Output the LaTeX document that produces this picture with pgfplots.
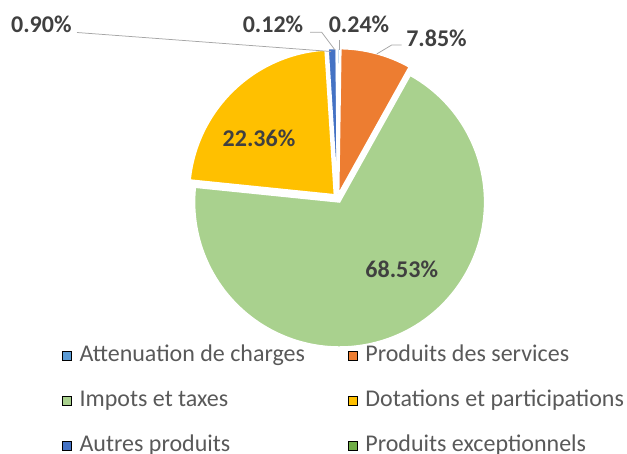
\documentclass[border=0pt]{standalone}
\usepackage{pgfplots}
\pgfplotsset{compat=1.18}
\usepackage{pgfplotstable}
\usepackage{fontspec}
\setmainfont{Carlito}

% slice colours, in table order
\definecolor{sl0}{HTML}{5B9BD5}
\definecolor{sl1}{HTML}{ED7D31}
\definecolor{sl2}{HTML}{A9D18E}
\definecolor{sl3}{HTML}{FFC000}
\definecolor{sl4}{HTML}{4472C4}
\definecolor{sl5}{HTML}{70AD47}
\definecolor{lbl}{HTML}{404040}
\definecolor{leg}{HTML}{595959}
\definecolor{lead}{HTML}{A6A6A6}

% value in %, label position (pixels from top left)
\pgfplotstableread[col sep=comma]{
name,value,lx,ly
Attenuation de charges,0.24,359,32.7
Produits des services,7.85,436.5,46.7
Impots et taxes,68.53,401.7,277.3
Dotations et participations,22.36,259,146.7
Autres produits,0.90,41.3,32.7
Produits exceptionnels,0.12,273,32.7
}\piedata

\newcommand\ox{337.5}
\newcommand\oy{198}
\newcommand\rad{145}
\newcommand\expl{4.5}

\begin{document}
\begin{tikzpicture}
\pgfplotstablegetrowsof{\piedata}
\pgfmathtruncatemacro\lastrow{\pgfplotsretval-1}
\gdef\cum{0}
\foreach \i in {0,...,\lastrow}{%
  \pgfplotstablegetelem{\i}{value}\of\piedata
  \expandafter\xdef\csname pv\i\endcsname{\pgfplotsretval}%
  \pgfmathsetmacro\sA{90-3.6*\cum}%
  \pgfmathsetmacro\nc{\cum+\pgfplotsretval}%
  \pgfmathsetmacro\eA{90-3.6*\nc}%
  \pgfmathsetmacro\mD{(\sA+\eA)/2}%
  \expandafter\xdef\csname sA\i\endcsname{\sA}%
  \expandafter\xdef\csname eA\i\endcsname{\eA}%
  \expandafter\xdef\csname mD\i\endcsname{\mD}%
  \pgfplotstablegetelem{\i}{lx}\of\piedata
  \expandafter\xdef\csname lx\i\endcsname{\pgfplotsretval}%
  \pgfplotstablegetelem{\i}{ly}\of\piedata
  \expandafter\xdef\csname ly\i\endcsname{\pgfplotsretval}%
  \pgfplotstablegetelem{\i}{name}\of\piedata
  \expandafter\xdef\csname nm\i\endcsname{\pgfplotsretval}%
  \xdef\cum{\nc}%
}
\begin{axis}[
  x=1pt, y=1pt, xmin=0, xmax=627, ymin=0, ymax=454, y dir=reverse,
  hide axis, clip=false,
  legend columns=2,
  legend cell align=left,
  legend image code/.code={\fill[#1] (0pt,-4.5pt) rectangle (9pt,4.5pt);},
  legend style={at={(axis cs:62,344.7)}, anchor=north west,
    draw=none, fill=none, inner sep=0pt,
    font=\fontsize{24}{28}\selectfont, text=leg, row sep=23pt,
    nodes={inner sep=0pt, text height=17pt, text depth=5pt},
    /tikz/every odd column/.append style={column sep=8pt},
    /tikz/every even column/.append style={column sep=43pt}},
]
\pgfplotsinvokeforeach{0,...,5}{
  \fill[sl#1, draw=white, line width=1.5pt]
    (axis cs:\ox,\oy) ++(\csname mD#1\endcsname:\expl pt)
    -- ++(\csname sA#1\endcsname:\rad pt)
    arc[start angle=\csname sA#1\endcsname, end angle=\csname eA#1\endcsname, radius=\rad pt]
    -- cycle;
}
\pgfplotsinvokeforeach{0,...,5}{
  \node[anchor=base, inner sep=0pt, text=lbl, font=\bfseries\fontsize{24}{28}\selectfont]
    at (axis cs:\csname lx#1\endcsname,\csname ly#1\endcsname)
    {\pgfmathprintnumber[fixed, fixed zerofill, precision=2, assume math mode=true]{\csname pv#1\endcsname}\%};
  \addlegendimage{fill=sl#1}
  \addlegendentry{\csname nm#1\endcsname}
}
% leader lines
\draw[lead, line width=0.75pt] (axis cs:77,32.5) -- (axis cs:331,51.5);
\draw[lead, line width=0.75pt] (axis cs:310,32.3) -- (axis cs:321.7,32.3) -- (axis cs:335,50);
\draw[lead, line width=0.75pt] (axis cs:339.3,40) -- (axis cs:339.3,50);
\draw[lead, line width=0.75pt] (axis cs:401.7,45) -- (axis cs:391.7,45) -- (axis cs:376.7,54);
\end{axis}
\pgfresetboundingbox
\path[use as bounding box] (0,0) rectangle (627pt,454pt);
\end{tikzpicture}
\end{document}
